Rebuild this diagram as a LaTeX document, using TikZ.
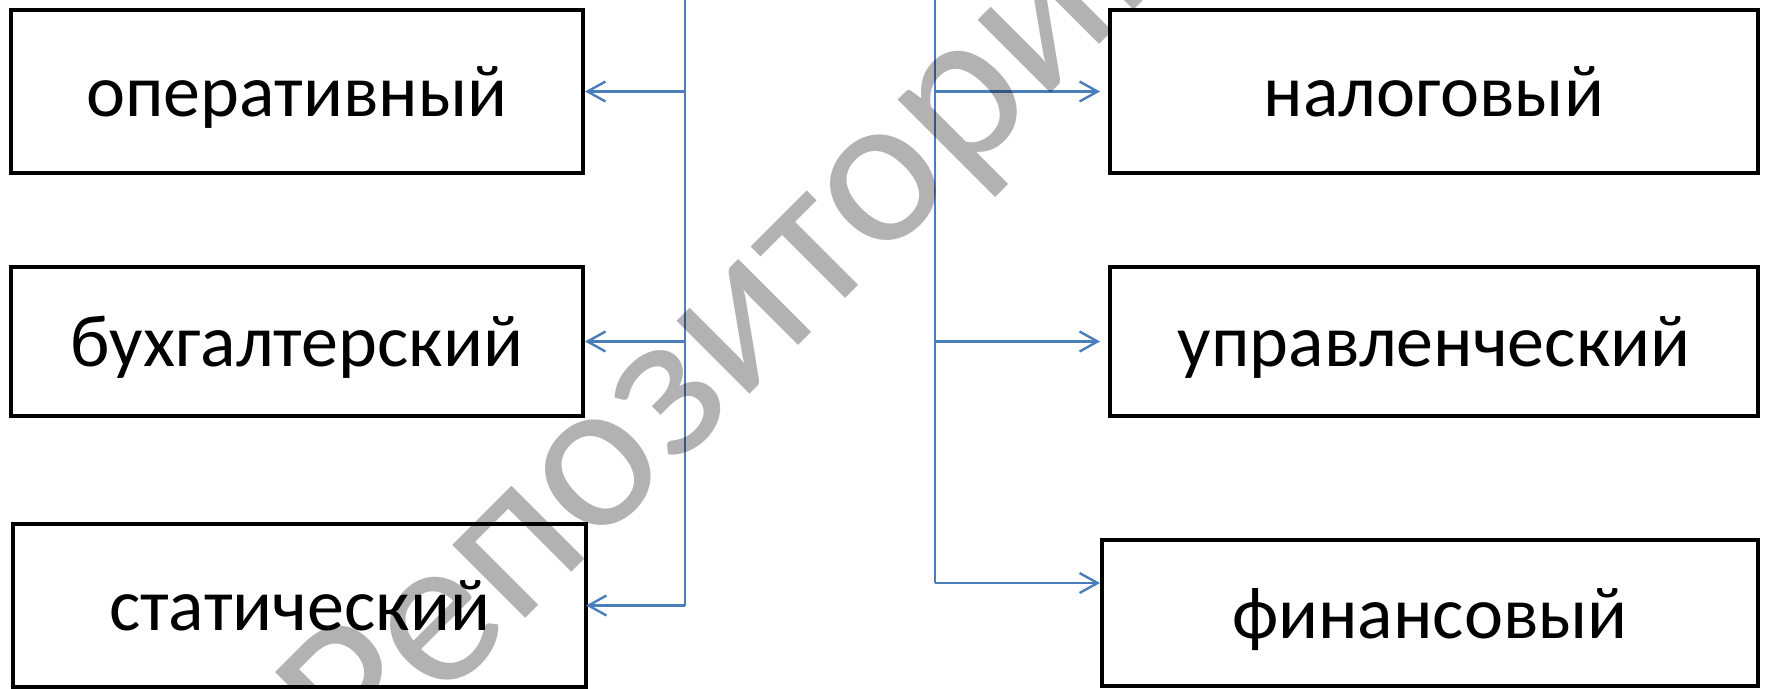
\documentclass[tikz,border=0pt]{standalone}
\usepackage{fontspec}
\newfontfamily\carlito{Carlito}
\usetikzlibrary{arrows.meta,calc}
\definecolor{linkblue}{RGB}{74,126,187}
\tikzset{
  box/.style={draw=black, line width=2pt, inner sep=0pt, fill=none,
    font=\carlito\fontsize{37}{44}\selectfont, text height=28pt, text depth=3pt},
  link/.style={draw=linkblue, line width=1.2pt},
  arrowlink/.style={link, -{Straight Barb[length=9pt,width=10pt,line width=1.2pt]}},
  wmark/.style={font=\carlito\fontsize{108}{118}\selectfont, text=black, text opacity=0.3,
    inner sep=0pt, rotate=45, anchor=base west}
}
\begin{document}
\begin{tikzpicture}[x=0.5pt,y=-0.5pt]
\useasboundingbox (0,0) rectangle (1765,689);
\clip (0,0) rectangle (1765,689);
\fill[white] (0,0) rectangle (1765,689);
% left boxes
\node[box, minimum width=286pt, minimum height=81.5pt] (op) at (297,91.5) {оперативный};
\node[box, minimum width=286pt, minimum height=74.5pt] (bux) at (297,341.5) {бухгалтерский};
\node[box, minimum width=286.5pt, minimum height=81.5pt] (stat) at (299.5,605.5) {статический};
% right boxes
\node[box, minimum width=324pt, minimum height=81.5pt] (nal) at (1434,91.5) {налоговый};
\node[box, minimum width=324pt, minimum height=74.5pt] (upr) at (1434,341.5) {управленческий};
\node[box, minimum width=328pt, minimum height=73pt] (fin) at (1430,613) {финансовый};
% left trunk
\coordinate (Ltop) at (685,-5);
\coordinate (L1) at (685,91.5);
\coordinate (L2) at (685,341.5);
\coordinate (L3) at (685,605.5);
\draw[link] (Ltop) -- (L3);
\draw[arrowlink] (L1) -- (L1 -| op.east);
\draw[arrowlink] (L2) -- (L2 -| bux.east);
\draw[arrowlink, shorten >=-1pt] (L3) -- (L3 -| stat.east);
% right trunk
\coordinate (Rtop) at (935,-5);
\coordinate (R1) at (935,91.5);
\coordinate (R2) at (935,341.5);
\coordinate (R3) at (935,583);
\draw[link] (Rtop) -- (R3);
\draw[arrowlink, shorten >=4pt] (R1) -- (R1 -| nal.west);
\draw[arrowlink, shorten >=4pt] (R2) -- (R2 -| upr.west);
\draw[arrowlink] (R3) -- (R3 -| fin.west);
% watermark
\node[wmark] (wm) at (362,782) {Репозиторий};
\end{tikzpicture}
\end{document}
